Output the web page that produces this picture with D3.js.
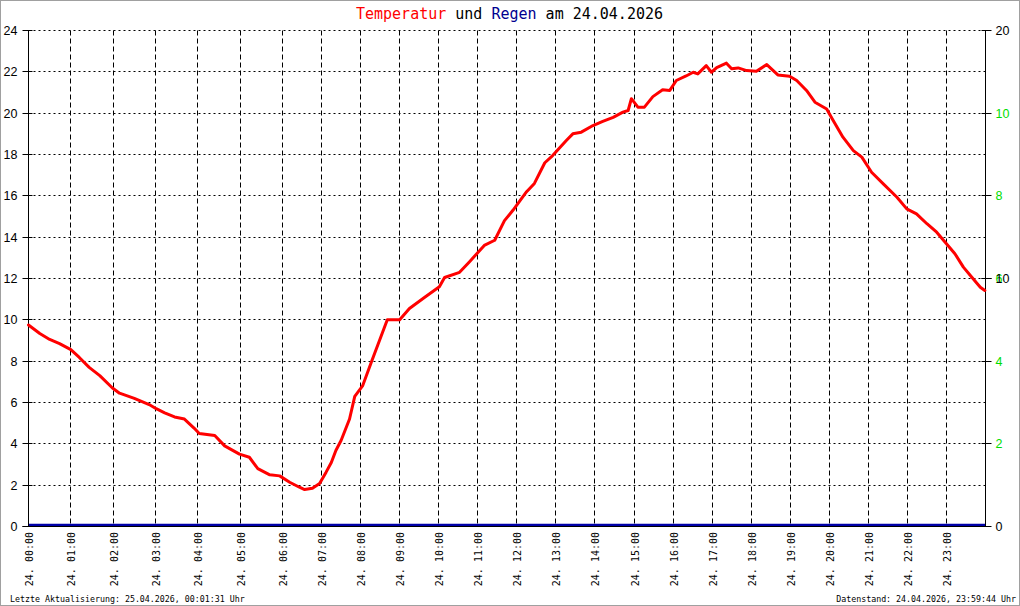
<!DOCTYPE html>
<html lang="de">
<head>
<meta charset="UTF-8">
<title>Temperatur und Regen am 24.04.2026</title>
<script src="https://cdn.jsdelivr.net/npm/d3@7"></script>
<style>
    body { margin: 0; background: #fff; }
    svg { display: block; }
    .mono { font-family: "DejaVu Sans Mono", monospace; }
    .num { font-family: "Liberation Sans", Arial, sans-serif; font-size: 12.5px; }
</style>
</head>
<body>
<svg width="1020" height="606"></svg>
<script>
// temperature samples (time of day, deg C)
const tempTimes = ["00:00","00:16","00:30","00:44","01:00","01:12","01:26","01:41","01:59","02:09",
    "02:30","02:51","03:01","03:13","03:27","03:41","03:55","04:02","04:24","04:38",
    "04:59","05:13","05:25","05:42","05:56","06:11","06:26","06:34","06:46","06:57",
    "07:07","07:15","07:22","07:30","07:43","07:51","08:03","08:17","08:29","08:41",
    "09:00","09:15","09:38","10:01","10:09","10:32","10:47","11:10","11:26","11:41",
    "11:54","12:15","12:27","12:43","12:55","13:16","13:26","13:39","13:57","14:12",
    "14:28","14:43","14:51","14:56","15:06","15:16","15:29","15:44","15:55","16:05",
    "16:20","16:31","16:38","16:51","16:59","17:07","17:22","17:30","17:40","17:53",
    "18:08","18:24","18:41","18:59","19:10","19:25","19:38","19:56","20:06","20:21",
    "20:37","20:50","21:05","21:23","21:44","21:59","22:14","22:30","22:45","23:00",
    "23:13","23:26","23:39","23:52","23:59"];
const tempValues = [9.75,9.34,9.05,8.85,8.56,8.18,7.7,7.3,6.7,6.45,
    6.2,5.9,5.7,5.5,5.3,5.2,4.75,4.5,4.4,3.9,
    3.5,3.35,2.8,2.5,2.45,2.14,1.9,1.79,1.85,2.08,
    2.63,3.1,3.68,4.16,5.2,6.3,6.8,8.0,9.0,10.0,
    10.0,10.55,11.08,11.6,12.05,12.3,12.8,13.6,13.85,14.8,
    15.3,16.2,16.6,17.6,17.95,18.68,19.0,19.08,19.4,19.6,
    19.8,20.05,20.13,20.7,20.29,20.29,20.8,21.13,21.1,21.58,
    21.8,21.98,21.9,22.3,21.98,22.2,22.42,22.15,22.19,22.06,
    22.03,22.35,21.85,21.79,21.58,21.1,20.53,20.2,19.64,18.84,
    18.19,17.87,17.14,16.58,15.93,15.37,15.13,14.65,14.24,13.68,
    13.2,12.55,12.06,11.58,11.42];

// rain (mm), no rain the whole day
const rainTimes = ["00:00","01:00","02:00","03:00","04:00","05:00","06:00","07:00","08:00","09:00",
    "10:00","11:00","12:00","13:00","14:00","15:00","16:00","17:00","18:00","19:00",
    "20:00","21:00","22:00","23:00","24:00"];
const rainValues = [0,0,0,0,0,0,0,0,0,0,0,0,0,0,0,0,0,0,0,0,0,0,0,0,0];

const hourLabels = ["00:00","01:00","02:00","03:00","04:00","05:00","06:00","07:00","08:00","09:00",
    "10:00","11:00","12:00","13:00","14:00","15:00","16:00","17:00","18:00","19:00",
    "20:00","21:00","22:00","23:00"];
const dayLabel = "24.";
const tempTicks = [0,2,4,6,8,10,12,14,16,18,20,22,24];
const rainTicks = [2,4,6,8,10];
const rightTicks = [0,10,20];

const title = ["Temperatur", " und ", "Regen", " am 24.04.2026"];
const footLeft = "Letzte Aktualisierung: 25.04.2026, 00:01:31 Uhr";
const footRight = "Datenstand: 24.04.2026, 23:59:44 Uhr";

const toHours = s => { const p = s.split(":"); return +p[0] + (+p[1]) / 60; };

const svg = d3.select("svg");
const L = 28.5, R = 985.5, T = 30.5, B = 526.5;

// logger time axis is not evenly spaced (first six hours wider)
const x = d3.scaleLinear().domain([0, 6, 24]).range([L, 282.5, R]);
const y = d3.scaleLinear().domain([0, 24]).range([B, T]);
const yRain = d3.scaleLinear().domain([0, 10]).range([B, y(20)]);
const yRight = d3.scaleLinear().domain([0, 20]).range([B, T]);
const snap = v => Math.round(v - 0.5) + 0.5;

// frame
svg.append("rect").attr("x", 0).attr("y", 0).attr("width", 1020).attr("height", 606)
    .attr("fill", "#fff").attr("stroke", "#a0a0a0").attr("stroke-width", 2);

// grid
svg.append("g").selectAll("line").data(tempTicks.slice(1)).join("line")
    .attr("x1", L).attr("x2", R)
    .attr("y1", d => snap(y(d))).attr("y2", d => snap(y(d)))
    .attr("stroke", "#000").attr("stroke-dasharray", "2,3");
svg.append("g").selectAll("line").data(hourLabels.slice(1)).join("line")
    .attr("x1", d => snap(x(toHours(d)))).attr("x2", d => snap(x(toHours(d))))
    .attr("y1", T).attr("y2", B)
    .attr("stroke", "#000").attr("stroke-dasharray", "5,3");

// rain line
svg.append("path")
    .datum(rainTimes.map((t, i) => [toHours(t), rainValues[i]]))
    .attr("fill", "none").attr("stroke", "#0000a8").attr("stroke-width", 2.5)
    .attr("transform", "translate(0,-1.5)")
    .attr("d", d3.line().x(d => x(d[0])).y(d => yRain(d[1])));

// left axis
const gl = svg.append("g").attr("transform", `translate(${L},0)`)
    .call(d3.axisLeft(y).tickValues(tempTicks).tickSizeOuter(0).tickSize(6).tickPadding(5));
gl.select(".domain").attr("d", `M0,${T}V${B}`);
gl.selectAll(".tick line").attr("x1", 4).attr("x2", -6);
gl.selectAll(".tick").attr("transform", d => `translate(0,${snap(y(d))})`);
gl.selectAll("text").attr("class", "num").attr("font-size", null).attr("font-family", null)
    .attr("x", -11).attr("dy", "0.36em");

// right axis (rain green, black scale on top)
const gr = svg.append("g").attr("transform", `translate(${R},0)`)
    .call(d3.axisRight(yRain).tickValues(rainTicks).tickSize(6).tickPadding(4));
gr.select(".domain").attr("d", `M0,${T}V${B}`);
gr.selectAll(".tick line").attr("x1", -4).attr("x2", 6);
gr.selectAll(".tick").attr("transform", d => `translate(0,${snap(yRain(d))})`);
gr.selectAll("text").attr("class", "num").attr("font-size", null).attr("font-family", null)
    .attr("fill", "#00dd00").attr("x", 10).attr("dy", "0.36em");

const gr2 = svg.append("g").attr("transform", `translate(${R},0)`)
    .call(d3.axisRight(yRight).tickValues(rightTicks).tickSize(6).tickPadding(4));
gr2.select(".domain").remove();
gr2.selectAll(".tick line").attr("x1", -4).attr("x2", 6);
gr2.selectAll(".tick").attr("transform", d => `translate(0,${snap(yRight(d))})`);
gr2.selectAll("text").attr("class", "num").attr("font-size", null).attr("font-family", null)
    .attr("x", 10).attr("dy", "0.36em");

// bottom axis
const gb = svg.append("g").attr("transform", `translate(0,${B})`)
    .call(d3.axisBottom(x).tickValues(hourLabels.map(toHours)).tickSize(0)
        .tickFormat((d, i) => dayLabel + " " + hourLabels[i]));
gb.select(".domain").attr("d", `M${L - 6},0H${R}`);
gb.selectAll(".tick").attr("transform", d => `translate(${snap(x(d))},0)`);
gb.selectAll("text").attr("class", "mono").attr("font-size", 10).attr("font-family", null)
    .attr("text-anchor", "end").attr("y", 0).attr("dy", 0)
    .attr("transform", "translate(4,5.5) rotate(-90)");

// temperature line
svg.append("path")
    .datum(tempTimes.map((t, i) => [toHours(t), tempValues[i]]))
    .attr("fill", "none").attr("stroke", "#ff0000").attr("stroke-width", 3)
    .attr("stroke-linejoin", "round").attr("stroke-linecap", "round")
    .attr("d", d3.line().x(d => x(d[0])).y(d => y(d[1])));

// title
const tt = svg.append("text").attr("class", "mono").attr("font-size", 15)
    .attr("x", 509.5).attr("y", 18.5).attr("text-anchor", "middle");
tt.selectAll("tspan").data(title).join("tspan")
    .attr("fill", (d, i) => i === 0 ? "#ff0000" : i === 2 ? "#000090" : "#000")
    .attr("xml:space", "preserve").style("white-space", "pre")
    .text(d => d);

// footers
svg.append("text").attr("class", "mono").attr("font-size", 8.3)
    .attr("x", 10).attr("y", 601.5).text(footLeft);
svg.append("text").attr("class", "mono").attr("font-size", 8.3)
    .attr("x", 1016).attr("y", 601.5).attr("text-anchor", "end").text(footRight);
</script>
</body>
</html>
